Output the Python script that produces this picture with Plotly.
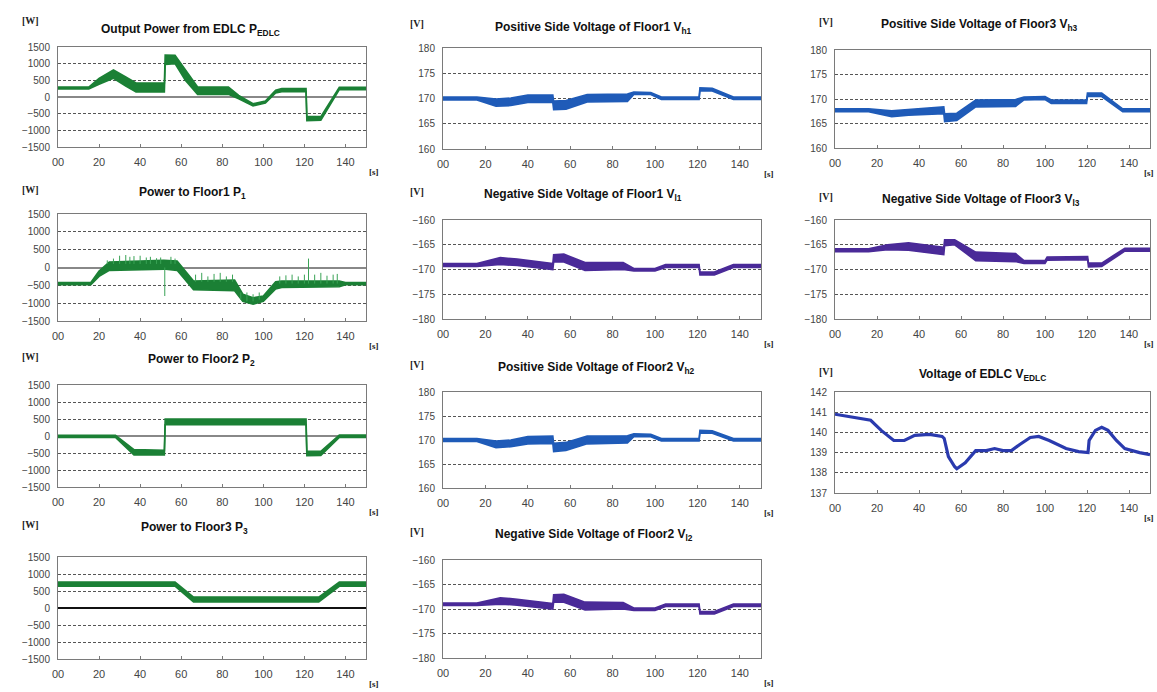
import plotly.graph_objects as go

W, H = 1157, 692

# ---------------- data ----------------
x_ticks = [0, 20, 40, 60, 80, 100, 120, 140]
x_ticktext = ["00", "20", "40", "60", "80", "100", "120", "140"]

# Output power from EDLC [W] (band: lower / upper envelope)
t_pedlc = [0, 15, 20, 27, 33, 38, 51.8, 52.2, 57, 62, 68, 83, 88, 95, 101, 106, 109, 120.8, 121.2, 128, 137, 150]
pedlc_lo = [240, 240, 380, 560, 330, 150, 150, 980, 1000, 500, 80, 80, -50, -270, -180, 120, 160, 160, -710, -700, 220, 220]
pedlc_hi = [300, 300, 560, 810, 600, 420, 420, 1260, 1250, 800, 300, 300, 50, -200, -120, 200, 250, 250, -590, -590, 290, 290]

# Power to floor1 [W]
t_p1 = [0, 16, 20, 25, 51.5, 52.5, 58, 66, 86, 90, 95, 100, 106, 109, 137, 140, 150]
p1_lo = [-480, -480, -250, -80, -50, -50, -80, -620, -650, -950, -1030, -950, -600, -560, -540, -480, -480]
p1_hi = [-420, -420, -100, 150, 200, 200, 180, -380, -350, -750, -850, -800, -400, -380, -380, -420, -420]
p1_spike_t = [24, 27, 30, 33, 35, 37, 40, 43, 45, 48, 50, 52, 55, 57, 67, 70, 73, 76, 79, 82, 85,
              89, 92, 95, 98, 108, 111, 114, 117, 120, 122, 125, 128, 131, 134, 136]
p1_spike_base = [100, 100, 100, 100, 100, 100, 100, 100, 100, 100, 100, 0, 100, 100, -400, -400, -400, -400, -400, -400, -400,
                 -900, -950, -950, -900, -450, -450, -450, -450, -450, -450, -450, -450, -450, -450, -450]
p1_spike_tip = [200, 250, 330, 350, 300, 320, 330, 280, 300, 260, 280, -800, 300, 250, -200, -150, -250, -180, -150, -250, -200,
                -700, -700, -750, -700, -250, -220, -200, -250, -200, 250, -200, -150, -230, -200, -180]

# Power to floor2 [W]
t_p2 = [0, 28, 37, 51.8, 52.2, 120.8, 121.2, 128, 137, 150]
p2_lo = [-40, -40, -560, -560, 330, 330, -580, -570, -40, -40]
p2_hi = [20, 20, -400, -420, 500, 500, -440, -450, 30, 30]

# Power to floor3 [W]
t_p3 = [0, 57, 66, 127, 137, 150]
p3_lo = [640, 640, 180, 180, 640, 640]
p3_hi = [760, 760, 320, 320, 760, 760]

# Positive side voltage floor1 [V]
t_vh1 = [0, 16, 25, 32, 40, 51.8, 52.2, 58, 68, 87, 90, 98, 103, 120.8, 121.2, 127, 137, 150]
vh1_lo = [169.7, 169.7, 168.5, 168.6, 169.2, 169.2, 167.8, 167.9, 169.3, 169.4, 170.8, 170.8, 169.8, 169.8, 171.5, 171.5, 169.8, 169.8]
vh1_hi = [170.3, 170.3, 169.9, 170.1, 170.7, 170.7, 169.5, 169.6, 170.8, 170.9, 171.3, 171.2, 170.3, 170.3, 172.1, 172.0, 170.3, 170.3]

# Negative side voltage floor1 [V]
t_vl1 = [0, 16, 27, 35, 51.8, 52.2, 57, 67, 85, 90, 100, 105, 120.8, 121.2, 128, 137, 150]
vl1_lo = [-169.4, -169.4, -169.0, -169.2, -170.0, -168.5, -168.5, -170.2, -170.0, -170.3, -170.3, -169.6, -169.6, -171.1, -171.1, -169.6, -169.6]
vl1_hi = [-168.8, -168.8, -167.6, -167.9, -168.8, -167.0, -166.9, -168.6, -168.6, -169.8, -169.8, -169.0, -169.0, -170.5, -170.5, -169.0, -169.0]

# Positive side voltage floor2 [V]
t_vh2 = [0, 16, 25, 32, 40, 51.8, 52.2, 58, 68, 87, 90, 98, 103, 120.8, 121.2, 127, 137, 150]
vh2_lo = [169.7, 169.7, 168.4, 168.6, 169.2, 169.3, 167.6, 167.8, 169.2, 169.4, 170.7, 170.7, 169.8, 169.8, 171.4, 171.4, 169.8, 169.8]
vh2_hi = [170.3, 170.3, 169.8, 170.0, 170.7, 170.8, 169.3, 169.5, 170.8, 170.9, 171.3, 171.2, 170.3, 170.3, 172.0, 171.9, 170.3, 170.3]

# Negative side voltage floor2 [V]
t_vl2 = [0, 16, 27, 35, 51.8, 52.2, 57, 67, 85, 90, 100, 105, 120.8, 121.2, 128, 137, 150]
vl2_lo = [-169.3, -169.3, -169.0, -169.2, -170.0, -168.6, -168.6, -170.2, -170.0, -170.3, -170.3, -169.5, -169.5, -171.0, -171.0, -169.5, -169.5]
vl2_hi = [-168.8, -168.8, -167.7, -168.0, -168.9, -167.1, -167.0, -168.6, -168.7, -169.8, -169.8, -169.0, -169.0, -170.5, -170.5, -169.0, -169.0]

# Positive side voltage floor3 [V]
t_vh3 = [0, 16, 27, 35, 51.8, 52.2, 58, 67, 86, 90, 100, 103, 119.8, 120.2, 127, 137, 150]
vh3_lo = [167.4, 167.4, 166.4, 166.7, 167.0, 165.4, 165.6, 168.4, 168.5, 169.8, 169.9, 169.1, 169.1, 170.5, 170.5, 167.4, 167.4]
vh3_hi = [168.0, 168.0, 167.6, 167.9, 168.4, 167.0, 167.1, 169.8, 169.9, 170.4, 170.5, 169.8, 169.8, 171.2, 171.2, 168.0, 168.0]

# Negative side voltage floor3 [V]
t_vl3 = [0, 16, 25, 35, 51.8, 52.2, 57, 67, 86, 90, 100, 101, 120.3, 120.7, 127, 138, 150]
vl3_lo = [-166.4, -166.4, -166.0, -166.1, -167.0, -165.2, -165.0, -168.2, -168.4, -168.8, -168.8, -168.1, -168.0, -169.5, -169.4, -166.3, -166.3]
vl3_hi = [-165.8, -165.8, -165.0, -164.6, -165.5, -164.0, -164.0, -166.5, -166.8, -168.2, -168.2, -167.5, -167.4, -168.7, -168.7, -165.7, -165.7]

# Voltage of EDLC [V]
t_vedlc = [0, 5, 15, 17, 22, 28, 33, 38, 45, 51, 52, 54, 57, 58, 62, 67, 72, 76, 80, 84, 88, 93, 97,
           102, 110, 116, 120.5, 121, 124, 127, 130, 134, 138, 145, 150]
vedlc = [140.9, 140.8, 140.6, 140.6, 140.1, 139.6, 139.6, 139.85, 139.9, 139.8, 139.7, 138.8, 138.3, 138.2,
         138.5, 139.1, 139.1, 139.2, 139.1, 139.1, 139.4, 139.75, 139.8, 139.6, 139.2, 139.05, 139.0, 139.6,
         140.1, 140.25, 140.1, 139.6, 139.2, 139.0, 138.9]

# ---------------- styling / layout ----------------
GREEN = "#1b8035"
BLUE = "#1f5bb8"
PURPLE = "#4a2a98"
EBLUE = "#2a3aae"
FONT = "Liberation Sans"

power_range = [-1500, 1500]
vpos_range = [160, 180]
vneg_range = [-180, -160]

# (name, box px (x0,y0,x1,y1), y range, dtick, title html, unit, color, zero line color, title pos)
panels = [
    ("pedlc", (58, 47, 366, 147), power_range, 500, "Output Power from EDLC P<sub>EDLC</sub>", "[W]", GREEN, "#888888", (190, 30)),
    ("p1", (58, 214, 366, 321), power_range, 500, "Power to Floor1 P<sub>1</sub>", "[W]", GREEN, "#888888", (192, 193)),
    ("p2", (58, 385, 366, 487), power_range, 500, "Power to Floor2 P<sub>2</sub>", "[W]", GREEN, "#888888", (202, 360)),
    ("p3", (58, 557, 366, 659), power_range, 500, "Power to Floor3 P<sub>3</sub>", "[W]", GREEN, "#111111", (194, 528)),
    ("vh1", (443, 48, 761, 149), vpos_range, 5, "Positive Side Voltage of Floor1 V<sub>h1</sub>", "[V]", BLUE, None, (593, 28)),
    ("vl1", (443, 220, 761, 319), vneg_range, 5, "Negative Side Voltage of Floor1 V<sub>l1</sub>", "[V]", PURPLE, None, (583, 195)),
    ("vh2", (443, 392, 761, 488), vpos_range, 5, "Positive Side Voltage of Floor2 V<sub>h2</sub>", "[V]", BLUE, None, (596, 368)),
    ("vl2", (443, 560, 761, 658), vneg_range, 5, "Negative Side Voltage of Floor2 V<sub>l2</sub>", "[V]", PURPLE, None, (594, 535)),
    ("vh3", (835, 50, 1150, 148), vpos_range, 5, "Positive Side Voltage of Floor3 V<sub>h3</sub>", "[V]", BLUE, None, (979, 25)),
    ("vl3", (835, 220, 1150, 319), vneg_range, 5, "Negative Side Voltage of Floor3 V<sub>l3</sub>", "[V]", PURPLE, None, (981, 200)),
    ("vedlc", (835, 392, 1150, 493), [137, 142], 1, "Voltage of EDLC V<sub>EDLC</sub>", "[V]", EBLUE, None, (982, 375)),
]

bands = {
    "pedlc": (t_pedlc, pedlc_lo, pedlc_hi),
    "p1": (t_p1, p1_lo, p1_hi),
    "p2": (t_p2, p2_lo, p2_hi),
    "p3": (t_p3, p3_lo, p3_hi),
    "vh1": (t_vh1, vh1_lo, vh1_hi),
    "vl1": (t_vl1, vl1_lo, vl1_hi),
    "vh2": (t_vh2, vh2_lo, vh2_hi),
    "vl2": (t_vl2, vl2_lo, vl2_hi),
    "vh3": (t_vh3, vh3_lo, vh3_hi),
    "vl3": (t_vl3, vl3_lo, vl3_hi),
}

fig = go.Figure()
annotations = []
layout = {}

for i, (name, box, yr, dt, title, unit, color, zcol, tpos) in enumerate(panels, start=1):
    x0, y0, x1, y1 = box
    xa = "x" if i == 1 else f"x{i}"
    ya = "y" if i == 1 else f"y{i}"
    xkey = "xaxis" if i == 1 else f"xaxis{i}"
    ykey = "yaxis" if i == 1 else f"yaxis{i}"

    layout[xkey] = dict(
        domain=[x0 / W, x1 / W], anchor=ya, range=[0, 150],
        tickvals=x_ticks, ticktext=x_ticktext,
        showline=True, mirror=True, linecolor="#7a7a7a", linewidth=1,
        ticks="inside", ticklen=3, tickcolor="#7a7a7a",
        showgrid=False, zeroline=False, automargin=False,
        tickfont=dict(family=FONT, size=11, color="#444444"),
        ticklabelstandoff=5, fixedrange=True,
    )
    layout[ykey] = dict(
        domain=[1 - y1 / H, 1 - y0 / H], anchor=xa, range=yr, dtick=dt,
        showline=True, mirror=True, linecolor="#7a7a7a", linewidth=1,
        ticks="", showgrid=True, gridcolor="#555555", gridwidth=1, griddash="3px,2px",
        zeroline=zcol is not None, zerolinecolor=zcol or "#888888", zerolinewidth=1.5,
        tickfont=dict(family=FONT, size=10, color="#444444"),
        ticklabelstandoff=5, fixedrange=True, automargin=False,
    )

    if name in bands:
        t, lo, hi = bands[name]
        fig.add_trace(go.Scatter(x=t, y=lo, mode="lines", line=dict(color=color, width=1.6),
                                 xaxis=xa, yaxis=ya, showlegend=False, hoverinfo="skip"))
        fig.add_trace(go.Scatter(x=t, y=hi, mode="lines", line=dict(color=color, width=1.6),
                                 fill="tonexty", fillcolor=color,
                                 xaxis=xa, yaxis=ya, showlegend=False, hoverinfo="skip"))
        if name == "p1":
            sx, sy = [], []
            for tt, b, tp in zip(p1_spike_t, p1_spike_base, p1_spike_tip):
                sx += [tt, tt, None]
                sy += [b, tp, None]
            fig.add_trace(go.Scatter(x=sx, y=sy, mode="lines", line=dict(color="#3aa356", width=1),
                                     xaxis=xa, yaxis=ya, showlegend=False, hoverinfo="skip"))
    else:
        fig.add_trace(go.Scatter(x=t_vedlc, y=vedlc, mode="lines", line=dict(color=color, width=3.2),
                                 xaxis=xa, yaxis=ya, showlegend=False, hoverinfo="skip"))

    # title
    annotations.append(dict(
        x=tpos[0] / W, y=1 - tpos[1] / H, xref="paper", yref="paper",
        text=f"<b>{title}</b>", showarrow=False, xanchor="center", yanchor="middle",
        font=dict(family=FONT, size=12, color="#111111"),
    ))
    # unit label
    ux = 30 if x0 < 200 else (417 if x0 < 600 else 826)
    uy = tpos[1] - (10 if i == 1 else 4)
    annotations.append(dict(
        x=ux / W, y=1 - uy / H, xref="paper", yref="paper",
        text=f"<b>{unit}</b>", showarrow=False, xanchor="center", yanchor="middle",
        font=dict(family="Liberation Serif", size=10, color="#222222"),
    ))
    # seconds label
    sx_px = min(x1 + 8, W - 8)
    sy_px = min(y1 + 25, H - 6)
    annotations.append(dict(
        x=sx_px / W, y=1 - sy_px / H, xref="paper", yref="paper",
        text="<b>[s]</b>", showarrow=False, xanchor="center", yanchor="middle",
        font=dict(family="Liberation Serif", size=9, color="#222222"),
    ))

fig.update_layout(
    width=W, height=H,
    margin=dict(l=0, r=0, t=0, b=0),
    paper_bgcolor="white", plot_bgcolor="white",
    showlegend=False,
    annotations=annotations,
    **layout,
)

fig.write_html("out.html",
               config={"displayModeBar": False},
               post_script="document.body.style.margin='0';document.body.style.padding='0';")
